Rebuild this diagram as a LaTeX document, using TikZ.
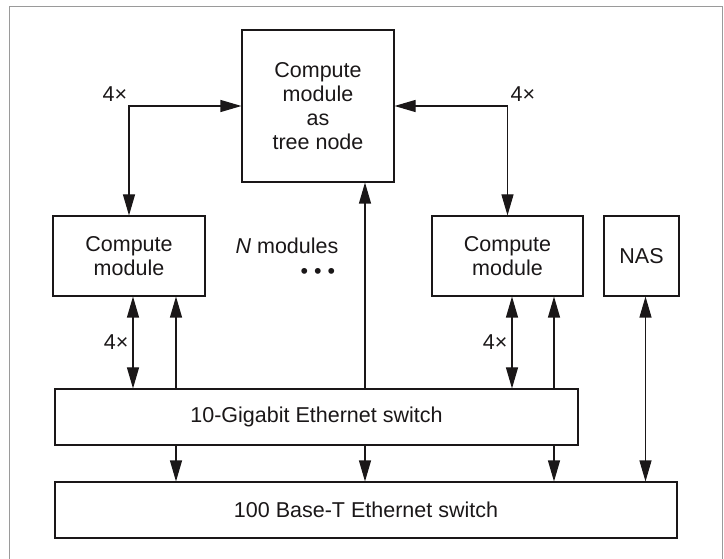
\documentclass[tikz,border=0pt]{standalone}
\usepackage{fontspec}
\setmainfont{Liberation Sans}
\usepackage{tikz}
\usetikzlibrary{shapes,arrows,arrows.meta}
\usetikzlibrary{positioning}
\definecolor{ink}{HTML}{1A1718}
\definecolor{framegray}{HTML}{9A9A9A}
\newcommand{\boxfont}{\fontsize{21.5}{24}\selectfont}
\tikzstyle{arrow} = [-{Triangle[length=21pt,width=12pt]}, line width=1.1pt, draw=ink]
\tikzstyle{biarrow} = [{Triangle[length=21pt,width=12pt]}-{Triangle[length=21pt,width=12pt]}, line width=1.1pt, draw=ink]
\tikzstyle{module} = [rectangle, draw=ink, line width=1.1pt, text=ink, font=\boxfont,
   align=center, inner sep=0pt]
\tikzstyle{note} = [text=ink, font=\boxfont, inner sep=4pt]

\begin{document}
\begin{tikzpicture}[node distance=150pt, x=1pt, y=1pt]

\useasboundingbox (0,0) rectangle (724,558);
\draw [framegray, line width=1pt] (9,-5) rectangle (722,551);

\node (tree) [module, minimum width=152pt, minimum height=152pt] at (318,452) {Compute\\ module\\ as\\ tree node};

\node (cmleft) [module, below of=tree, xshift=-189pt, minimum width=152pt, minimum height=80pt] {Compute\\ module};
\node (cmright) [module, below of=tree, xshift=189.5pt, minimum width=151pt, minimum height=80pt] {Compute\\ module};
\node (nas) [module, right of=cmright, xshift=-16pt, minimum width=75pt, minimum height=80pt] {NAS};

\node (nmod) [note, below of=tree, xshift=-31pt, yshift=10pt] {\textit{N} modules};
\node (dots) [note, below of=nmod, node distance=27pt, xshift=31pt] {• • •};

\node (gig) [module, below of=tree, yshift=-161pt, xshift=-1.5pt, minimum width=523pt, minimum height=56pt] {10-Gigabit Ethernet switch};
\node (base) [module, below of=gig, node distance=93pt, xshift=49.5pt, minimum width=622pt, minimum height=56pt] {100 Base-T Ethernet switch};

% links to the tree node
\draw [biarrow] (cmleft.north) |- (tree.west);
\draw [biarrow] (cmright.north) |- (tree.east);
\node (fourtl) [note] at ([xshift=-14pt,yshift=12pt]cmleft.north |- tree.west) {4×};
\node (fourtr) [note] at ([xshift=15.5pt,yshift=12pt]cmright.north |- tree.east) {4×};
\draw [arrow] ([xshift=47pt]tree.south |- gig.north) -- ([xshift=47pt]tree.south);

% modules to the 10-Gigabit switch
\draw [biarrow] ([xshift=4pt]cmleft.south) -- node [note, left] {4×} ([xshift=4pt]cmleft.south |- gig.north);
\draw [arrow] ([xshift=47pt]cmleft.south |- gig.north) -- ([xshift=47pt]cmleft.south);
\draw [biarrow] ([xshift=4.5pt]cmright.south) -- node [note, left] {4×} ([xshift=4.5pt]cmright.south |- gig.north);
\draw [arrow] ([xshift=46.5pt]cmright.south |- gig.north) -- ([xshift=46.5pt]cmright.south);

% down to the 100 Base-T switch
\draw [arrow] ([xshift=47pt]cmleft.south |- gig.south) -- ([xshift=47pt]cmleft.south |- base.north);
\draw [arrow] ([xshift=47pt]tree.south |- gig.south) -- ([xshift=47pt]tree.south |- base.north);
\draw [arrow] ([xshift=46.5pt]cmright.south |- gig.south) -- ([xshift=46.5pt]cmright.south |- base.north);
\draw [biarrow] ([xshift=4pt]nas.south) -- ([xshift=4pt]nas.south |- base.north);

\end{tikzpicture}
\end{document}
